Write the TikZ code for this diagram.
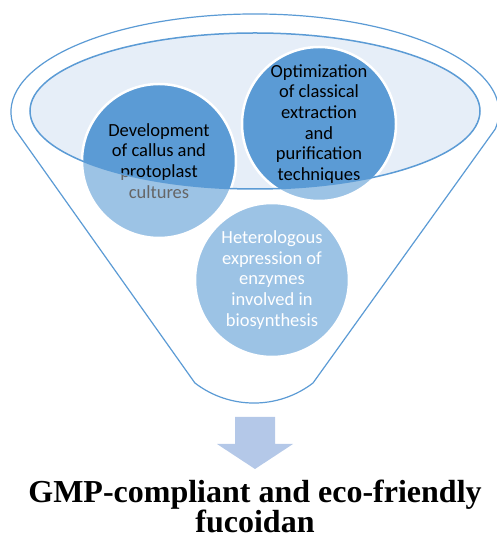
\documentclass[tikz,border=0pt]{standalone}
\usepackage{fontspec}
\setmainfont{Liberation Serif}
\newfontfamily\calibri{Carlito}
\usepackage{tikz}
\usetikzlibrary{positioning}
\definecolor{funnelblue}{HTML}{5B9BD5}
\definecolor{rimfill}{HTML}{E6EEF8}
\definecolor{arrowblue}{HTML}{B4C8E8}

\tikzset{
  stage/.style={circle,fill=funnelblue,draw=white,line width=2.5pt,
    minimum size=154pt,inner sep=0pt,align=center,
    font=\calibri\fontsize{18.5}{20.7}\selectfont},
  outline/.style={draw=funnelblue,line width=1.2pt}
}

\begin{document}
\begin{tikzpicture}[x=1pt,y=1pt]
  \useasboundingbox (0,0) rectangle (496,540);
  % inner rim of the funnel
  \fill[rimfill] (255,429) ellipse [x radius=225,y radius=78];

  \node[stage] (callus) at (159,379) {Development\\of callus and\\protoplast\\cultures};
  \node[stage] (extraction) at (319,416) {Optimization\\of classical\\extraction\\and\\purification\\techniques};
  \node[stage,text=white] (enzymes) at (272,260) {Heterologous\\expression of\\enzymes\\involved in\\biosynthesis};

  % funnel body washes out what lies below the rim
  \fill[white,opacity=0.4,even odd rule] (0,0) rectangle (496,540)
    (255,429) ellipse [x radius=225,y radius=78];
  \draw[outline,line width=1.5pt] (255,429) ellipse [x radius=225,y radius=78];

  % funnel outline
  \draw[outline] (14.7,411) arc[start angle=190,end angle=-10,x radius=244,y radius=98]
    -- (313,157) arc[start angle=-52.5,end angle=-127.5,radius=97] -- cycle;

  % output arrow
  \fill[arrowblue] (235,123) -- (275,123) -- (275,96) -- (293,96) -- (255,71)
    -- (217,96) -- (235,96) -- cycle;

  \node[align=center,anchor=base,font=\bfseries\fontsize{32}{27}\selectfont] (product) at (255,7)
    {GMP-compliant and eco-friendly\\fucoidan};
\end{tikzpicture}
\end{document}
